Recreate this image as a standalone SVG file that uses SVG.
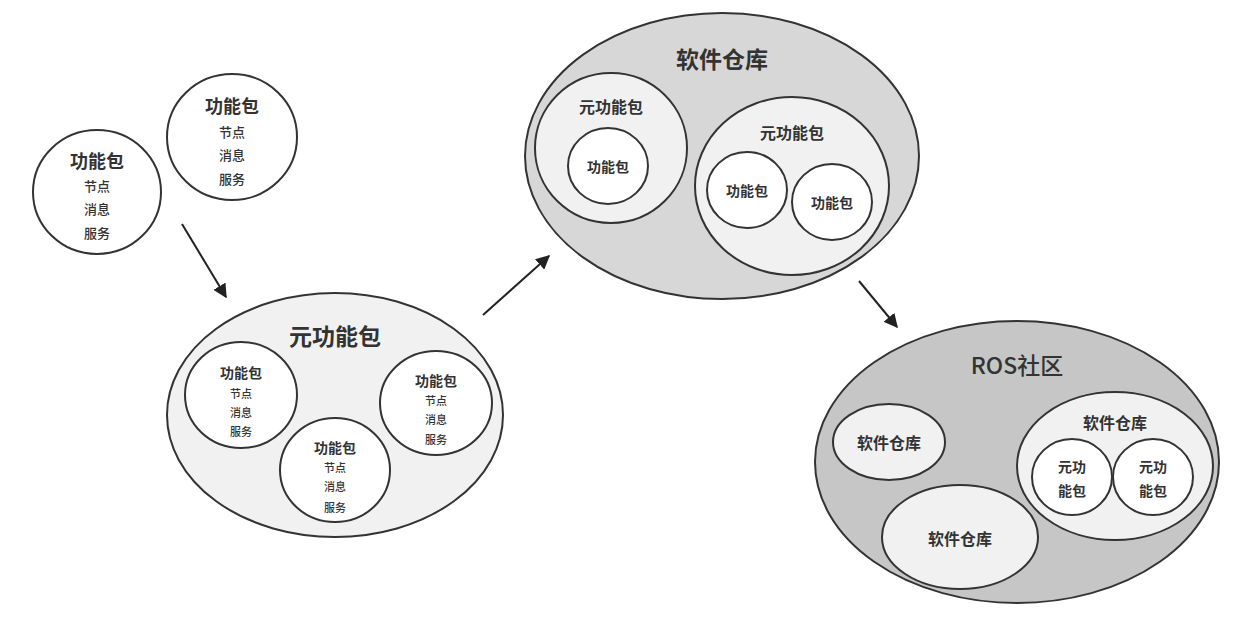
<svg xmlns="http://www.w3.org/2000/svg" width="1237" height="632" viewBox="0 0 1237 632">
<style>
.s{stroke:#333;stroke-width:2}
.w{fill:#fff}
.l{fill:#f1f1f1}
.g{fill:#d7d7d7}
.d{fill:#c6c6c6}
text{font-family:"Noto Sans CJK SC","Noto Sans",sans-serif;fill:#333;text-anchor:middle;dominant-baseline:central}
.t1{font-size:18px;font-weight:bold}
.t2{font-size:13px;font-weight:500}
.t3{font-size:11px;font-weight:500}
.tb{font-size:23px;font-weight:bold}
.tm{font-size:16px;font-weight:bold}
.ts{font-size:14px;font-weight:bold}
.c{stroke:#222;stroke-width:2;fill:none}
</style>
<defs>
<marker id="ah" viewBox="0 0 10 10" refX="9" refY="5" markerWidth="7" markerHeight="7" orient="auto" markerUnits="strokeWidth">
<path d="M0,0 L10,5 L0,10 z" fill="#222"/>
</marker>
</defs>
<rect width="1237" height="632" fill="#fff"/>

<g id="pkgA">
<ellipse class="s w" cx="97" cy="192" rx="64" ry="62"/>
<text class="t1" x="97" y="160">功能包</text>
<text class="t2" x="97" y="185">节点</text>
<text class="t2" x="97" y="208">消息</text>
<text class="t2" x="97" y="232">服务</text>
</g>
<g id="pkgB">
<ellipse class="s w" cx="232" cy="137" rx="65" ry="63"/>
<text class="t1" x="232" y="105">功能包</text>
<text class="t2" x="232" y="131">节点</text>
<text class="t2" x="232" y="154">消息</text>
<text class="t2" x="232" y="178">服务</text>
</g>

<g id="metapackage">
<ellipse class="s l" cx="335" cy="415" rx="168" ry="122"/>
<text class="tb" x="335" y="335">元功能包</text>
<g id="mp-pkg1">
<ellipse class="s w" cx="241" cy="395" rx="56" ry="53"/>
<text class="ts" x="241" y="372">功能包</text>
<text class="t3" x="241" y="393">节点</text>
<text class="t3" x="241" y="412">消息</text>
<text class="t3" x="241" y="431">服务</text>
</g>
<g id="mp-pkg2">
<ellipse class="s w" cx="335" cy="470" rx="55" ry="52"/>
<text class="ts" x="335" y="447">功能包</text>
<text class="t3" x="335" y="467">节点</text>
<text class="t3" x="335" y="486">消息</text>
<text class="t3" x="335" y="507">服务</text>
</g>
<g id="mp-pkg3">
<ellipse class="s w" cx="436" cy="403" rx="56" ry="52"/>
<text class="ts" x="436" y="380">功能包</text>
<text class="t3" x="436" y="400">节点</text>
<text class="t3" x="436" y="419">消息</text>
<text class="t3" x="436" y="439">服务</text>
</g>
</g>

<g id="repository">
<ellipse class="s g" cx="722" cy="156" rx="197" ry="143"/>
<text class="tb" x="722" y="58">软件仓库</text>
<g id="repo-meta1">
<ellipse class="s l" cx="611" cy="148" rx="76" ry="75"/>
<text class="tm" x="611" y="106">元功能包</text>
<ellipse class="s w" cx="608" cy="166" rx="40" ry="38"/>
<text class="ts" x="608" y="166">功能包</text>
</g>
<g id="repo-meta2">
<ellipse class="s l" cx="792" cy="186" rx="97" ry="89"/>
<text class="tm" x="792" y="132">元功能包</text>
<ellipse class="s w" cx="747" cy="190" rx="40" ry="38"/>
<text class="ts" x="747" y="190">功能包</text>
<ellipse class="s w" cx="832" cy="202" rx="40" ry="38"/>
<text class="ts" x="832" y="202">功能包</text>
</g>
</g>

<g id="ros-community">
<ellipse class="s d" cx="1017" cy="462" rx="202" ry="141"/>
<text class="tb" x="1017" y="364" style="font-weight:500">ROS社区</text>
<g id="rc-repo1">
<ellipse class="s l" cx="889" cy="442" rx="56" ry="38"/>
<text class="tm" x="889" y="442">软件仓库</text>
</g>
<g id="rc-repo2">
<ellipse class="s l" cx="960" cy="537" rx="78" ry="52"/>
<text class="tm" x="960" y="538">软件仓库</text>
</g>
<g id="rc-repo3">
<ellipse class="s l" cx="1115" cy="466" rx="98" ry="74"/>
<text class="tm" x="1115" y="422">软件仓库</text>
<ellipse class="s w" cx="1072" cy="477" rx="40" ry="38"/>
<text class="ts" x="1072" y="466">元功</text>
<text class="ts" x="1072" y="490">能包</text>
<ellipse class="s w" cx="1153" cy="477" rx="40" ry="38"/>
<text class="ts" x="1153" y="466">元功</text>
<text class="ts" x="1153" y="490">能包</text>
</g>
</g>

<g id="connectors">
<line class="c" x1="182" y1="224" x2="226" y2="297" marker-end="url(#ah)"/>
<line class="c" x1="483" y1="315" x2="549" y2="256" marker-end="url(#ah)"/>
<line class="c" x1="859" y1="281" x2="897" y2="327" marker-end="url(#ah)"/>
</g>
</svg>
